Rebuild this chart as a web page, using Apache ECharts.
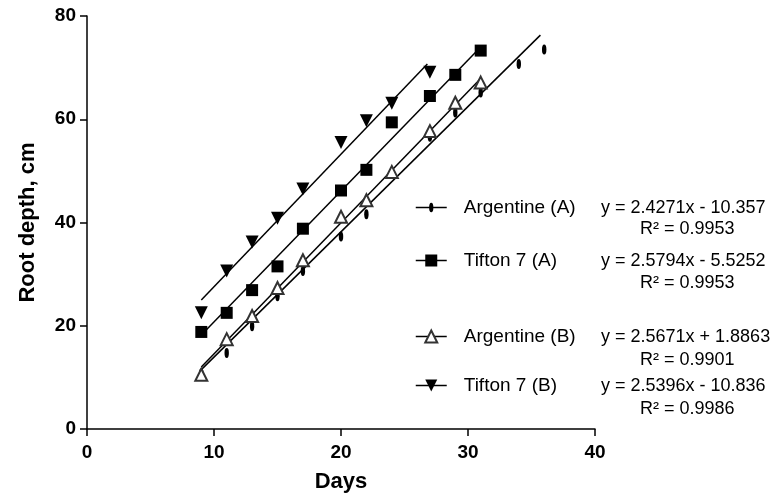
<!DOCTYPE html>
<html>
<head>
<meta charset="utf-8">
<script src="https://cdn.jsdelivr.net/npm/echarts@6/dist/echarts.min.js"></script>
<style>
  html, body { margin: 0; padding: 0; background: #fff; }
  #chart { width: 781px; height: 494px; }
</style>
</head>
<body>
<div id="chart"></div>
<script>
const argA_days = [9, 11, 13, 15, 17, 20, 22, 24, 27, 29, 31, 34, 36];
const argA_depth = [10.8, 14.7, 19.9, 25.7, 30.6, 37.3, 41.6, 49.8, 56.6, 61.3, 65.2, 70.7, 73.5];

const tifA_days = [9, 11, 13, 15, 17, 20, 22, 24, 27, 29, 31];
const tifA_depth = [18.8, 22.5, 26.9, 31.5, 38.8, 46.2, 50.2, 59.4, 64.5, 68.6, 73.3];

const argB_days = [9, 11, 13, 15, 17, 20, 22, 24, 27, 29, 31];
const argB_depth = [10.5, 17.4, 21.9, 27.3, 32.7, 41.1, 44.3, 49.8, 57.7, 63.2, 67.1];

const tifB_days = [9, 11, 13, 15, 17, 20, 22, 24, 27];
const tifB_depth = [22.5, 30.6, 36.2, 40.8, 46.5, 55.5, 59.7, 63.1, 69.1];

// trend line end points
const argA_trend = [[9, 11.5], [35.7, 76.3]];
const tifA_trend = [[9, 18.2], [31, 74.0]];
const argB_trend = [[9, 12.0], [31, 67.9]];
const tifB_trend = [[9, 25.0], [26.8, 70.7]];

const names = ["Argentine (A)", "Tifton 7 (A)", "Argentine (B)", "Tifton 7 (B)"];
const equations = ["y = 2.4271x - 10.357", "y = 2.5794x - 5.5252", "y = 2.5671x + 1.8863", "y = 2.5396x - 10.836"];
const r2Labels = ["R\u00b2 = 0.9953", "R\u00b2 = 0.9953", "R\u00b2 = 0.9901", "R\u00b2 = 0.9986"];

const FONT = "'Liberation Sans', Arial, Helvetica, sans-serif";
// small upright ellipse, padded to a square box so it keeps its shape
const ELLIPSE = "path://M0,0M10,10M5,0A2.2,5,0,1,1,5,10A2.2,5,0,1,1,5,0Z";

const zip = (xs, ys) => xs.map((x, i) => [x, ys[i]]);

const chart = echarts.init(document.getElementById("chart"));

const pointSeries = (name, data, symbol, size, extra) => Object.assign({
  name: name,
  type: "line",
  data: data,
  symbol: symbol,
  symbolSize: size,
  showAllSymbol: true,
  lineStyle: { opacity: 0 },
  itemStyle: { color: "#000" },
  emphasis: { disabled: true },
  z: 5,
  animation: false
}, extra || {});

const trendSeries = (data) => ({
  type: "line",
  data: data,
  symbol: "none",
  lineStyle: { color: "#000", width: 1.5 },
  emphasis: { disabled: true },
  silent: true,
  z: 3,
  animation: false
});

const rowY = [208, 261, 337, 386];
const r2Y = [229, 283, 360, 409];

const legends = names.map((n, i) => ({
  data: [n],
  left: 415,
  top: rowY[i] - 10,
  padding: 0,
  itemWidth: 31,
  itemHeight: i === 0 ? 12 : 15,
  selectedMode: false,
  lineStyle: { color: "#000", width: 1.5, opacity: 1 },
  textStyle: { fontFamily: FONT, fontSize: 19, color: "#000", padding: [0, 0, 0, 12] }
}));

const graphics = [];
equations.forEach((t, i) => {
  graphics.push({
    type: "text", x: 601, y: rowY[i],
    style: { text: t, font: "18px " + FONT, fill: "#000", verticalAlign: "middle" }
  });
  graphics.push({
    type: "text", x: 640, y: r2Y[i],
    style: { text: r2Labels[i], font: "18px " + FONT, fill: "#000", verticalAlign: "middle" }
  });
});

const axisCommon = {
  axisLine: { show: true, onZero: false, lineStyle: { color: "#000", width: 1.5 } },
  axisTick: { show: true, length: 7, lineStyle: { color: "#000", width: 1.5 } },
  splitLine: { show: false },
  nameLocation: "middle",
  nameTextStyle: { fontFamily: FONT, fontSize: 22, fontWeight: "bold", color: "#000" }
};

chart.setOption({
  backgroundColor: "#fff",
  animation: false,
  grid: { left: 87, right: 186, top: 16, bottom: 65, outerBoundsMode: "none" },
  xAxis: Object.assign({}, axisCommon, {
    type: "value", min: 0, max: 40, interval: 10,
    name: "Days", nameGap: 42,
    axisLabel: { margin: 14, fontFamily: FONT, fontSize: 19, fontWeight: "bold", color: "#000" }
  }),
  yAxis: Object.assign({}, axisCommon, {
    type: "value", min: 0, max: 80, interval: 20,
    name: "Root depth, cm", nameGap: 48,
    axisLabel: { margin: 11, fontFamily: FONT, fontSize: 19, fontWeight: "bold", color: "#000" }
  }),
  legend: legends,
  graphic: graphics,
  series: [
    trendSeries(argA_trend),
    trendSeries(tifA_trend),
    trendSeries(argB_trend),
    trendSeries(tifB_trend),
    pointSeries(names[0], zip(argA_days, argA_depth), ELLIPSE, 10),
    pointSeries(names[1], zip(tifA_days, tifA_depth), "rect", 12),
    pointSeries(names[2], zip(argB_days, argB_depth), "emptyTriangle", 12,
      { itemStyle: { color: "#333", borderWidth: 1 } }),
    pointSeries(names[3], zip(tifB_days, tifB_depth), "triangle", 13, { symbolRotate: 180 })
  ]
});
</script>
</body>
</html>
